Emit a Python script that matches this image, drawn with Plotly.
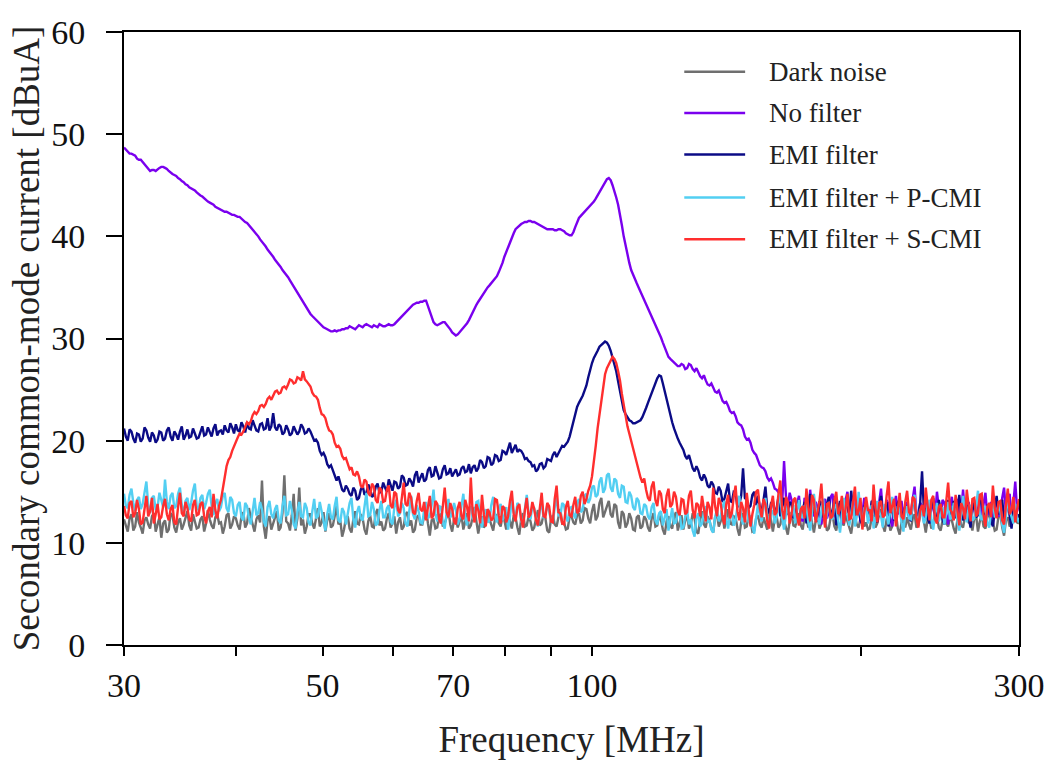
import numpy as np
import plotly.graph_objects as go

# Log sweep 30-300 MHz, 481 points
sweep_mhz = np.geomspace(30, 300, 481)

series_names = ["Dark noise", "No filter", "EMI filter", "EMI filter + P-CMI", "EMI filter + S-CMI"]
series_colors = ["#6f6f6f", "#7a00ee", "#0b0b86", "#52cff2", "#ff2e2e"]

dark_noise = [
    12.3, 11.6, 11.1, 12.4, 12.8, 11.2, 11.6, 13.0, 12.0, 11.5, 10.9, 12.2, 12.5, 11.8, 11.4, 12.6, 12.9, 11.1, 11.7, 12.5,
    10.5, 11.9, 12.2, 11.0, 11.3, 12.9, 12.7, 11.5, 11.0, 12.0, 12.4, 11.3, 11.8, 12.6, 13.1, 11.7, 11.2, 12.8, 12.1, 11.4,
    11.5, 12.3, 12.6, 11.1, 11.9, 13.2, 12.3, 11.7, 11.4, 12.5, 12.8, 11.9, 12.0, 10.9, 11.6, 12.7, 12.9, 11.4, 11.8, 12.6,
    12.4, 11.7, 11.3, 12.6, 13.0, 11.5, 11.9, 13.4, 12.5, 11.8, 11.1, 12.3, 12.7, 12.0, 16.1, 11.6, 10.4, 12.2, 12.6, 11.3,
    11.8, 12.5, 13.1, 11.2, 11.5, 12.9, 16.6, 12.1, 11.9, 11.2, 12.7, 14.8, 11.2, 12.4, 15.4, 11.7, 12.3, 10.9, 11.6, 12.8,
    12.8, 11.9, 11.4, 12.5, 13.4, 11.6, 12.0, 13.0, 11.1, 12.2, 12.9, 11.5, 11.7, 12.6, 13.6, 11.8, 12.2, 10.6, 11.3, 12.4,
    12.6, 11.4, 11.0, 12.3, 13.1, 11.9, 11.8, 12.8, 12.4, 11.3, 10.8, 12.1, 12.7, 11.6, 11.5, 12.9, 13.3, 11.7, 12.1, 11.2,
    11.4, 12.4, 12.9, 11.5, 11.9, 12.6, 10.9, 12.0, 12.5, 11.3, 11.6, 12.8, 13.0, 11.7, 12.2, 11.0, 11.3, 12.5, 12.7, 11.8,
    11.8, 12.6, 13.4, 11.9, 10.7, 12.2, 12.3, 11.4, 11.5, 12.7, 12.8, 11.6, 11.9, 12.5, 13.2, 11.8, 11.1, 12.3, 12.4, 11.5,
    12.0, 12.7, 11.3, 12.2, 12.9, 11.4, 11.7, 12.5, 13.5, 12.1, 10.9, 12.0, 12.6, 11.5, 11.8, 12.9, 12.3, 11.6, 11.2, 12.4,
    12.8, 11.9, 11.6, 12.6, 12.2, 11.3, 13.0, 12.1, 11.4, 12.7, 12.5, 11.5, 10.8, 12.3, 12.9, 11.6, 11.7, 12.6, 12.1, 11.2,
    11.5, 12.4, 13.2, 11.7, 11.9, 12.8, 12.4, 11.2, 11.0, 12.3, 12.7, 11.8, 11.6, 12.5, 13.3, 11.9, 12.0, 11.3, 11.4, 12.6,
    12.6, 12.0, 11.8, 12.7, 12.9, 11.9, 12.2, 13.4, 13.3, 12.4, 11.9, 13.1, 13.8, 12.2, 12.6, 13.9, 14.4, 12.5, 13.0, 13.7,
    14.1, 12.8, 12.5, 13.8, 13.6, 12.0, 11.4, 13.1, 12.8, 11.5, 11.9, 12.9, 12.4, 11.3, 11.2, 12.5, 12.7, 11.4, 11.6, 12.6,
    12.3, 11.5, 11.1, 12.4, 12.9, 11.6, 11.7, 12.8, 12.2, 11.3, 10.8, 12.1, 12.6, 11.7, 11.4, 12.5, 13.0, 11.2, 11.9, 12.7,
    11.3, 12.2, 12.7, 11.4, 11.8, 12.9, 12.4, 11.1, 10.9, 12.3, 13.1, 11.8, 11.5, 12.6, 12.2, 11.4, 11.0, 12.5, 12.8, 11.6,
    12.1, 12.7, 11.4, 12.2, 13.3, 11.9, 11.8, 12.6, 12.5, 11.4, 10.7, 12.0, 12.9, 11.5, 11.6, 12.8, 12.3, 11.1, 11.2, 12.4,
    12.7, 11.8, 11.5, 12.5, 12.0, 11.3, 13.4, 12.2, 11.1, 12.3, 12.6, 11.5, 11.8, 12.9, 12.2, 11.4, 10.8, 12.1, 13.0, 11.7,
    11.6, 12.3, 12.9, 11.7, 11.3, 12.6, 12.4, 11.5, 13.2, 12.0, 11.0, 12.2, 12.7, 11.4, 11.9, 12.8, 12.3, 11.2, 11.4, 12.5,
    12.8, 11.6, 11.2, 12.4, 13.5, 12.0, 11.7, 12.7, 12.1, 11.3, 10.9, 12.2, 12.6, 11.8, 11.5, 12.4, 13.1, 11.6, 12.0, 11.3,
    11.4, 12.5, 12.7, 11.5, 11.9, 12.8, 13.3, 11.7, 11.1, 12.3, 12.4, 11.2, 11.6, 12.6, 12.9, 11.4, 10.8, 12.0, 12.2, 11.5,
    12.5, 11.8, 11.3, 12.4, 12.8, 11.5, 11.7, 12.7, 13.6, 12.1, 11.0, 12.3, 12.3, 11.4, 11.8, 12.9, 12.6, 11.5, 11.2, 12.2,
    13.0, 11.9, 11.6, 12.5, 12.2, 11.4, 10.9, 12.3, 12.9, 11.7, 11.5, 12.6, 13.2, 12.0, 11.9, 11.2, 12.4, 12.7, 11.1, 12.1,
    12.7, 11.6, 11.4, 12.5, 13.1, 11.8, 12.0, 11.2, 11.3, 12.6, 12.8, 11.5, 10.7, 12.2, 12.5, 11.6, 11.8, 12.7, 13.4, 12.0,
    11.9,
]

no_filter = [
    48.7, 48.5, 48.4, 48.1, 48.1, 48.0, 47.9, 47.6, 47.5, 47.5, 47.3, 47.0, 46.9, 46.6, 46.4, 46.5, 46.5, 46.4, 46.6, 46.7,
    46.8, 46.8, 46.7, 46.6, 46.4, 46.2, 46.1, 46.0, 45.9, 45.7, 45.6, 45.4, 45.3, 45.1, 45.0, 44.8, 44.7, 44.6, 44.5, 44.3,
    44.1, 44.0, 43.9, 43.7, 43.6, 43.4, 43.3, 43.2, 43.1, 42.9, 42.8, 42.7, 42.6, 42.5, 42.4, 42.4, 42.3, 42.2, 42.1, 42.1,
    42.0, 41.9, 41.9, 41.7, 41.6, 41.4, 41.3, 41.1, 40.9, 40.6, 40.4, 40.2, 40.0, 39.7, 39.5, 39.2, 39.0, 38.7, 38.5, 38.2,
    38.0, 37.7, 37.5, 37.2, 37.0, 36.7, 36.5, 36.2, 36.0, 35.7, 35.4, 35.1, 34.8, 34.4, 34.1, 33.9, 33.6, 33.3, 33.0, 32.7,
    32.4, 32.2, 32.0, 31.8, 31.6, 31.4, 31.3, 31.1, 31.0, 30.9, 30.8, 30.7, 30.7, 30.8, 30.7, 30.8, 30.8, 30.9, 30.9, 31.0,
    31.0, 31.2, 31.1, 31.0, 30.9, 31.1, 31.3, 31.2, 31.1, 31.3, 31.4, 31.3, 31.2, 31.1, 31.3, 31.2, 31.1, 31.4, 31.3, 31.2,
    31.2, 31.3, 31.4, 31.3, 31.3, 31.4, 31.6, 31.7, 31.9, 32.1, 32.3, 32.6, 32.8, 33.0, 33.2, 33.3, 33.4, 33.5, 33.5, 33.6,
    33.6, 33.7, 33.7, 33.2, 32.6, 32.1, 31.6, 31.4, 31.3, 31.4, 31.5, 31.6, 31.6, 31.4, 31.2, 30.9, 30.6, 30.4, 30.3, 30.4,
    30.6, 30.8, 31.0, 31.2, 31.5, 31.8, 32.2, 32.5, 32.9, 33.3, 33.6, 33.9, 34.2, 34.5, 34.7, 35.0, 35.2, 35.4, 35.6, 35.8,
    36.1, 36.5, 36.9, 37.4, 38.0, 38.5, 39.0, 39.5, 39.9, 40.3, 40.7, 40.9, 41.1, 41.2, 41.3, 41.4, 41.4, 41.5, 41.5, 41.4,
    41.4, 41.3, 41.2, 41.1, 41.0, 40.9, 40.8, 40.7, 40.7, 40.7, 40.7, 40.6, 40.6, 40.7, 40.7, 40.6, 40.5, 40.3, 40.2, 40.1,
    40.1, 40.4, 40.9, 41.4, 41.8, 42.0, 42.2, 42.4, 42.6, 42.7, 42.9, 43.1, 43.4, 43.7, 44.0, 44.3, 44.6, 45.0, 45.3, 45.6,
    45.7, 45.5, 45.0, 44.5, 43.8, 43.1, 42.2, 41.1, 40.0, 39.0, 38.2, 37.4, 36.7, 36.2, 35.8, 35.4, 35.0, 34.6, 34.2, 33.8,
    33.4, 33.0, 32.6, 32.2, 31.8, 31.4, 31.0, 30.6, 30.1, 29.6, 29.1, 28.6, 28.2, 28.0, 27.8, 27.6, 27.4, 27.3, 27.3, 27.5,
    27.4, 27.0, 27.1, 27.5, 27.4, 27.0, 26.8, 27.1, 26.7, 26.3, 26.1, 26.4, 25.9, 25.5, 25.4, 25.6, 25.2, 24.8, 24.7, 24.9,
    24.4, 23.9, 23.7, 23.8, 23.4, 22.9, 22.7, 22.8, 22.4, 21.8, 21.6, 21.5, 21.1, 20.4, 20.1, 20.2, 19.8, 19.1, 18.8, 18.6,
    18.1, 17.6, 17.4, 17.3, 17.0, 16.4, 16.1, 16.3, 15.9, 15.3, 15.2, 14.9, 14.7, 13.9, 18.0, 14.6, 13.4, 14.9, 14.2, 12.9,
    12.8, 13.9, 14.6, 12.5, 12.1, 14.4, 13.9, 12.3, 15.2, 13.1, 12.6, 14.0, 13.4, 12.2, 11.8, 13.6, 14.3, 12.4, 13.0, 14.5,
    14.8, 12.9, 12.4, 13.8, 13.6, 12.2, 11.9, 14.2, 15.0, 12.7, 13.2, 14.6, 12.5, 13.3, 14.1, 12.0, 12.9, 14.4, 13.7, 12.6,
    12.2, 13.7, 14.4, 12.6, 13.1, 14.0, 15.3, 12.9, 12.7, 14.2, 13.8, 12.3, 11.6, 13.5, 14.6, 12.8, 13.3, 14.1, 12.4, 13.6,
    14.0, 12.5, 12.9, 14.3, 15.5, 12.8, 12.3, 13.9, 13.6, 12.4, 14.7, 13.0, 11.9, 14.1, 13.2, 12.6, 15.0, 13.4, 12.6, 14.2,
    13.9, 12.7, 11.8, 13.6, 14.5, 12.6, 13.0, 14.3, 12.4, 13.1, 15.2, 12.9, 13.5, 14.0, 12.1, 13.4, 14.2, 12.5, 13.3, 14.6,
    12.5, 13.8, 14.9, 12.7, 13.2, 14.0, 11.7, 13.5, 14.1, 12.6, 12.8, 14.4, 15.4, 12.9, 13.6, 14.8, 12.2, 13.9, 16.0, 13.1,
    13.8,
]

emi_filter = [
    21.2, 20.4, 20.0, 21.1, 20.9, 20.2, 19.8, 20.7, 20.6, 19.9, 20.2, 21.3, 21.0, 20.3, 19.9, 20.8, 20.5, 19.8, 20.1, 20.9,
    20.8, 20.0, 20.2, 21.0, 21.3, 20.4, 20.0, 20.9, 20.6, 20.1, 20.9, 21.4, 20.1, 20.5, 21.1, 20.3, 20.4, 21.2, 20.7, 20.2,
    20.3, 20.9, 21.4, 20.5, 20.6, 21.3, 20.9, 20.4, 21.2, 21.6, 20.5, 20.9, 21.0, 20.6, 21.5, 21.0, 20.8, 21.7, 21.3, 20.7,
    21.6, 21.0, 20.9, 21.8, 21.4, 20.8, 21.8, 21.2, 21.1, 22.0, 21.5, 21.0, 20.9, 21.6, 21.7, 21.1, 21.2, 22.2, 21.0, 21.4,
    22.7, 21.3, 21.0, 21.6, 21.4, 20.6, 20.8, 21.5, 21.1, 20.5, 20.7, 21.4, 21.0, 20.6, 20.9, 21.6, 21.3, 20.7, 20.8, 21.2,
    20.9, 20.4, 20.0, 20.1, 19.8, 19.0, 18.6, 18.8, 18.4, 17.7, 17.4, 17.6, 17.1, 16.4, 16.1, 16.5, 15.9, 15.2, 15.0, 15.6,
    15.3, 14.8, 14.6, 15.4, 15.1, 14.2, 14.4, 15.2, 15.6, 14.7, 14.9, 15.7, 15.3, 14.5, 14.7, 15.5, 15.8, 14.9, 15.0, 15.9,
    15.4, 15.0, 16.2, 15.6, 15.1, 16.0, 15.9, 15.3, 15.5, 16.6, 16.4, 15.6, 15.7, 16.3, 16.0, 15.5, 16.6, 17.0, 15.9, 16.4,
    16.8, 16.0, 16.2, 17.1, 17.4, 16.5, 16.6, 17.5, 17.0, 16.3, 16.4, 17.2, 17.6, 16.7, 16.8, 17.3, 16.5, 16.9, 17.2, 16.6,
    16.7, 17.3, 17.5, 16.9, 17.0, 17.7, 16.8, 17.4, 17.6, 17.0, 17.3, 18.1, 17.9, 17.3, 17.5, 18.4, 18.3, 17.6, 17.8, 18.6,
    18.5, 18.0, 18.1, 19.0, 18.9, 18.6, 19.3, 19.8, 18.8, 19.2, 19.6, 18.9, 19.1, 19.0, 18.7, 18.2, 18.3, 18.0, 17.9, 17.5,
    17.6, 17.0, 17.2, 17.7, 17.8, 17.3, 17.5, 18.2, 18.1, 18.0, 18.6, 18.9, 18.4, 18.8, 19.1, 19.5, 19.4, 19.6, 19.9, 20.4,
    21.2, 22.0, 22.7, 23.3, 23.7, 24.0, 24.4, 24.9, 25.4, 26.2, 27.0, 27.6, 28.1, 28.4, 28.8, 29.2, 29.4, 29.6, 29.7, 29.6,
    29.3, 28.8, 28.2, 27.6, 26.8, 25.8, 24.8, 23.8, 23.0, 22.6, 22.3, 22.0, 21.9, 21.7, 21.7, 21.8, 21.9, 22.0, 22.3, 22.7,
    23.2, 23.7, 24.2, 24.8, 25.3, 25.8, 26.1, 26.4, 26.3, 25.6, 24.8, 24.0, 23.2, 22.5, 21.8, 21.2, 20.6, 20.2, 19.8, 19.4,
    19.1, 18.5, 18.2, 18.6, 18.0, 17.3, 17.0, 17.5, 17.1, 16.4, 16.1, 16.7, 16.3, 15.6, 15.4, 16.0, 15.7, 14.9, 14.8, 15.5,
    15.1, 14.0, 14.3, 15.2, 15.8, 14.1, 14.0, 15.0, 14.9, 13.5, 13.8, 14.6, 17.3, 14.4, 14.2, 13.4, 13.6, 14.7, 15.0, 13.7,
    14.6, 13.5, 13.2, 14.2, 15.5, 13.3, 12.9, 13.9, 14.1, 12.8, 13.4, 14.5, 12.6, 13.6, 14.4, 12.7, 13.0, 14.0, 13.8, 12.5,
    12.4, 13.6, 14.2, 12.6, 13.1, 14.0, 11.9, 13.3, 14.8, 12.9, 13.5, 12.3, 12.2, 14.1, 13.9, 12.5, 12.7, 13.8, 14.5, 12.8,
    13.0, 14.3, 11.7, 13.2, 14.1, 12.4, 12.9, 14.0, 13.6, 12.5, 15.1, 13.1, 12.3, 13.9, 13.4, 12.2, 11.8, 13.5, 14.0, 12.6,
    12.6, 14.1, 13.8, 12.4, 12.0, 13.5, 14.6, 12.8, 13.2, 14.0, 11.6, 12.9, 13.7, 12.2, 12.5, 13.9, 14.3, 12.7, 12.9, 13.6,
    13.5, 12.6, 12.1, 13.8, 14.0, 12.5, 12.8, 13.9, 17.0, 13.2, 13.3, 12.4, 11.9, 13.6, 14.4, 12.9, 12.6, 14.2, 13.1, 12.3,
    11.8, 13.4, 14.2, 12.7, 13.0, 14.1, 12.4, 13.3, 14.7, 12.6, 12.2, 13.8, 13.6, 12.4, 11.5, 13.2, 13.9, 12.5, 12.7, 14.0,
    14.1, 12.9, 12.5, 13.7, 13.3, 12.2, 11.6, 13.4, 14.6, 12.8, 13.0, 14.2, 12.3, 13.1, 14.0, 12.6, 11.4, 13.3, 13.5, 12.4,
    12.8,
]

emi_p_cmi = [
    14.8, 13.6, 13.4, 14.7, 15.3, 13.9, 13.1, 14.2, 14.5, 13.3, 13.8, 15.0, 16.0, 13.7, 12.9, 14.4, 14.6, 13.2, 13.5, 14.9,
    14.1, 13.5, 16.2, 14.0, 13.3, 14.6, 14.9, 13.4, 13.6, 14.8, 15.4, 13.7, 12.8, 14.1, 14.4, 13.2, 13.9, 15.1, 15.8, 13.6,
    13.2, 14.4, 14.7, 13.3, 13.9, 14.8, 15.2, 13.6, 12.7, 13.9, 14.3, 13.1, 13.5, 14.6, 14.9, 13.4, 13.0, 14.5, 14.2, 12.9,
    12.6, 13.7, 14.0, 12.5, 12.2, 13.9, 13.6, 12.4, 11.8, 13.2, 14.4, 12.7, 12.9, 14.0, 13.3, 12.1, 11.6, 13.5, 14.1, 12.8,
    12.4, 13.3, 13.7, 12.2, 11.9, 13.6, 14.6, 12.7, 12.8, 14.1, 13.2, 11.8, 11.4, 13.0, 14.0, 12.6, 12.5, 13.9, 13.4, 12.0,
    11.7, 13.1, 14.3, 12.4, 12.6, 14.0, 13.1, 11.9, 11.2, 12.8, 13.8, 12.5, 12.3, 13.6, 14.5, 12.2, 12.0, 13.4, 13.0, 11.8,
    12.8, 13.9, 14.4, 12.3, 11.5, 13.0, 13.6, 12.4, 12.2, 13.8, 14.9, 12.6, 12.7, 14.0, 13.3, 11.7, 11.9, 13.2, 14.1, 12.5,
    12.5, 13.4, 13.7, 12.1, 11.8, 13.5, 14.2, 12.6, 12.9, 13.9, 13.4, 11.9, 11.6, 13.1, 14.6, 12.8, 12.3, 13.7, 13.1, 12.0,
    11.9, 13.3, 14.0, 12.4, 12.6, 13.7, 15.2, 12.9, 12.1, 13.6, 13.5, 12.0, 11.4, 12.9, 14.3, 12.5, 12.8, 13.9, 13.2, 11.8,
    12.4, 13.6, 14.8, 12.5, 11.7, 13.2, 13.6, 12.3, 12.9, 14.0, 14.1, 12.6, 11.5, 12.8, 13.3, 12.0, 12.2, 13.7, 14.5, 12.7,
    12.0, 13.4, 13.8, 12.2, 12.7, 13.5, 11.3, 12.6, 14.2, 13.0, 12.5, 13.9, 13.6, 12.1, 11.8, 13.3, 14.7, 12.9, 12.3, 13.6,
    13.4, 12.3, 11.6, 13.2, 14.0, 12.4, 12.8, 13.7, 13.1, 12.2, 11.9, 13.5, 14.4, 12.7, 12.6, 13.9, 13.7, 12.5, 12.1, 13.4,
    13.5, 12.8, 12.4, 13.9, 14.3, 13.0, 13.2, 14.6, 14.8, 13.9, 14.3, 15.4, 15.6, 14.5, 14.7, 16.0, 16.4, 14.9, 15.3, 16.6,
    16.8, 15.4, 15.0, 16.3, 16.1, 14.8, 14.4, 15.6, 15.5, 14.0, 13.9, 15.0, 14.6, 13.5, 13.2, 14.4, 14.1, 12.9, 12.8, 13.8,
    13.6, 12.6, 12.3, 13.5, 13.9, 12.2, 11.8, 12.9, 13.1, 11.7, 12.5, 13.3, 11.2, 12.4, 13.4, 11.9, 12.0, 13.0, 12.9, 11.4,
    11.5, 12.6, 13.2, 11.8, 12.3, 11.2, 10.6, 12.4, 12.9, 11.6, 11.9, 13.0, 13.6, 12.0, 12.2, 11.3, 11.0, 12.5, 13.3, 12.1,
    12.6, 13.5, 14.1, 12.3, 11.4, 12.8, 13.0, 11.7, 12.2, 13.6, 14.6, 12.5, 11.8, 13.1, 13.5, 12.0, 12.7, 11.6, 10.9, 12.4,
    13.8, 12.7, 12.1, 13.4, 14.4, 12.6, 11.6, 12.9, 13.2, 11.9, 12.5, 13.9, 14.9, 12.4, 11.3, 12.8, 13.6, 12.2, 12.8, 13.7,
    11.9, 13.1, 14.2, 12.8, 12.4, 13.6, 13.7, 12.0, 11.2, 12.9, 14.8, 13.2, 12.6, 11.8, 13.1, 14.3, 11.7, 12.7, 14.0, 12.5,
    12.3, 13.8, 13.5, 12.2, 11.0, 12.7, 14.4, 12.9, 12.8, 11.7, 13.2, 14.1, 11.6, 12.6, 15.0, 12.8, 12.1, 13.4, 13.7, 11.9,
    12.9, 13.7, 11.4, 12.5, 14.1, 13.0, 12.6, 11.5, 13.8, 12.7, 11.8, 13.3, 14.5, 12.4, 12.2, 13.6, 13.3, 12.0, 11.1, 12.8,
    13.6, 12.4, 12.3, 13.8, 14.7, 12.6, 11.7, 13.3, 13.0, 11.9, 12.5, 13.7, 14.2, 12.3, 11.3, 12.9, 13.9, 12.1, 12.7, 13.5,
    11.8, 12.9, 14.0, 12.3, 12.6, 13.9, 13.4, 12.1, 11.2, 12.8, 14.6, 13.0, 12.0, 13.5, 13.7, 12.2, 12.4, 13.6, 15.1, 12.7,
    12.2, 13.4, 13.5, 12.0, 11.5, 12.9, 14.3, 12.5, 12.8, 13.7, 13.1, 11.8, 11.0, 12.6, 14.5, 13.2, 12.6, 11.9, 13.8, 12.4,
    12.0,
]

emi_s_cmi = [
    13.6, 12.7, 12.4, 13.9, 14.1, 12.5, 12.9, 14.2, 13.3, 11.8, 12.0, 13.5, 14.6, 12.6, 13.1, 14.4, 11.9, 12.8, 13.8, 12.3,
    12.5, 13.6, 14.3, 12.8, 12.2, 13.3, 13.7, 12.0, 11.8, 13.5, 14.9, 12.9, 12.6, 14.0, 13.4, 12.3, 12.1, 13.7, 14.2, 12.7,
    12.8, 13.8, 14.0, 12.6, 11.9, 13.1, 13.5, 12.5, 14.8, 13.2, 12.4, 13.6, 14.2, 15.3, 16.6, 17.5, 18.1, 18.4, 19.0, 19.5,
    19.8, 20.3, 20.7, 20.6, 20.9, 21.4, 21.8, 21.6, 21.9, 22.5, 22.8, 22.6, 22.9, 23.4, 23.5, 23.3, 23.6, 24.1, 24.3, 24.0,
    24.4, 24.8, 24.9, 24.6, 24.7, 25.2, 25.3, 25.1, 25.5, 26.0, 25.9, 25.6, 25.7, 26.2, 26.1, 25.9, 26.8, 26.0, 25.8, 25.6,
    25.3, 24.7, 24.4, 24.3, 24.0, 23.2, 22.6, 22.5, 22.2, 21.5, 21.0, 20.9, 20.6, 19.8, 19.4, 19.5, 19.2, 18.5, 18.2, 18.3,
    17.8, 17.2, 17.4, 16.7, 16.6, 17.0, 16.5, 15.6, 15.4, 16.2, 16.0, 14.9, 14.6, 15.8, 15.5, 14.2, 13.9, 15.4, 15.2, 14.0,
    14.1, 15.2, 15.6, 13.7, 13.4, 15.0, 14.8, 13.2, 12.9, 14.3, 15.9, 13.8, 13.6, 14.9, 14.4, 13.0, 12.8, 14.1, 14.9, 13.3,
    13.1, 14.0, 12.2, 13.5, 14.6, 12.4, 12.7, 14.1, 13.8, 12.3, 11.9, 13.6, 15.4, 13.0, 12.5, 13.9, 13.3, 12.1, 11.8, 13.4,
    14.0, 12.6, 12.3, 14.2, 13.5, 12.1, 16.4, 12.9, 12.0, 13.8, 13.2, 11.9, 14.7, 12.8, 11.6, 13.3, 13.0, 12.2, 12.4, 14.3,
    14.2, 12.7, 11.9, 13.6, 13.4, 12.0, 12.6, 14.1, 15.1, 12.8, 12.1, 13.5, 13.8, 12.3, 11.5, 13.2, 14.4, 12.5, 12.8, 14.0,
    13.3, 12.2, 11.7, 13.4, 14.9, 12.6, 12.5, 13.9, 13.6, 12.1, 12.0, 14.3, 15.6, 13.0, 12.9, 11.9, 11.8, 13.5, 14.1, 12.7,
    12.6, 13.7, 14.5, 12.9, 13.1, 14.6, 15.0, 13.8, 14.3, 15.1, 15.6, 16.5, 17.8, 19.5, 21.2, 22.6, 23.9, 25.3, 26.5, 27.1,
    27.5, 27.9, 28.2, 28.0, 27.6, 26.8, 25.9, 24.6, 23.4, 22.4, 21.4, 20.7, 20.0, 19.3, 18.6, 17.8, 17.0, 16.4, 15.9, 16.3,
    15.2, 14.4, 14.1, 15.5, 16.0, 14.2, 13.6, 15.1, 14.8, 13.3, 12.9, 14.6, 15.3, 13.5, 13.8, 15.0, 14.5, 13.1, 12.7, 14.3,
    14.2, 12.8, 13.0, 14.6, 15.1, 13.2, 12.4, 13.9, 13.7, 12.6, 14.6, 13.3, 12.1, 14.0, 13.5, 12.3, 15.4, 13.6, 12.6, 14.4,
    13.9, 12.5, 11.8, 13.8, 14.7, 12.4, 12.9, 14.5, 15.6, 13.1, 12.2, 14.0, 13.4, 12.0, 14.9, 13.3, 11.6, 12.8, 13.7, 15.0,
    15.2, 13.4, 12.5, 14.3, 13.8, 12.1, 11.4, 13.6, 14.6, 12.7, 13.0, 14.8, 16.1, 13.2, 12.3, 14.5, 14.0, 11.9, 12.8, 14.2,
    14.4, 12.6, 11.7, 13.3, 13.6, 12.4, 15.3, 13.5, 12.1, 14.7, 14.2, 12.0, 12.9, 14.1, 15.8, 13.0, 11.5, 13.8, 13.9, 12.4,
    12.6, 14.2, 15.0, 12.8, 13.3, 14.6, 11.9, 13.7, 14.8, 12.3, 12.4, 14.0, 15.5, 12.7, 13.1, 14.4, 11.3, 12.9, 14.5, 13.2,
    13.2, 12.1, 15.7, 13.4, 12.0, 13.9, 14.1, 12.5, 12.7, 14.6, 16.0, 12.9, 13.5, 14.3, 11.6, 13.1, 14.9, 12.6, 12.3, 14.0,
    15.1, 13.0, 12.8, 14.5, 14.3, 12.4, 11.5, 13.2, 13.7, 12.6, 15.4, 13.6, 12.2, 14.2, 14.6, 12.3, 11.9, 13.5, 13.8, 12.5,
    12.5, 14.1, 15.9, 13.3, 13.0, 12.2, 14.7, 13.1, 11.7, 13.9, 13.4, 12.3, 15.2, 13.6, 12.1, 14.3, 14.4, 12.6, 12.9, 14.7,
    14.8, 12.7, 11.6, 13.5, 13.9, 12.5, 15.6, 13.4, 12.4, 14.0, 14.1, 12.2, 11.8, 13.7, 15.3, 12.8, 13.2, 14.5, 12.0, 13.3,
    14.3,
]

series_values = [dark_noise, no_filter, emi_filter, emi_p_cmi, emi_s_cmi]
for vals in series_values:
    assert len(vals) == len(sweep_mhz), len(vals)

x_tick_vals = [30, 40, 50, 60, 70, 80, 90, 100, 200, 300]
x_tick_text = ["30", "", "50", "", "70", "", "", "100", "", "300"]
y_tick_vals = [0, 10, 20, 30, 40, 50, 60]

serif = "Liberation Serif, Times New Roman, serif"

fig = go.Figure()
for name, color, vals in zip(series_names, series_colors, series_values):
    fig.add_trace(go.Scatter(
        x=sweep_mhz, y=vals, mode="lines", name=name,
        line=dict(color=color, width=2.4), showlegend=False,
    ))

# Legend drawn as short line samples with labels at the upper right
legend_x0, legend_x1, legend_text_x = 0.626, 0.694, 0.718
legend_y = [0.935, 0.868, 0.800, 0.730, 0.662]
for name, color, ly in zip(series_names, series_colors, legend_y):
    fig.add_shape(type="line", xref="paper", yref="paper",
                  x0=legend_x0, x1=legend_x1, y0=ly, y1=ly,
                  line=dict(color=color, width=2.5))
    fig.add_annotation(xref="paper", yref="paper", x=legend_text_x, y=ly,
                       text=name, showarrow=False, xanchor="left", yanchor="middle",
                       font=dict(family=serif, size=27, color="#222222"))

fig.update_layout(
    width=1057, height=765,
    margin=dict(l=124, r=34, t=32, b=118),
    paper_bgcolor="white", plot_bgcolor="white",
    font=dict(family=serif, color="#111111"),
)
fig.update_xaxes(
    type="log", range=[np.log10(30), np.log10(300)],
    tickvals=x_tick_vals, ticktext=x_tick_text,
    ticks="outside", ticklen=9, tickwidth=2, tickcolor="black",
    showline=True, linewidth=2, linecolor="black", mirror=True,
    showgrid=False, zeroline=False,
    tickfont=dict(family=serif, size=34, color="#111111"),
    title=dict(text="Frequency [MHz]", font=dict(family=serif, size=37, color="#222222"), standoff=23),
)
fig.update_yaxes(
    range=[0, 60], tickvals=y_tick_vals,
    ticks="outside", ticklen=16, tickwidth=2, tickcolor="black",
    showline=True, linewidth=2, linecolor="black", mirror=True,
    showgrid=False, zeroline=False, ticklabelstandoff=14,
    tickfont=dict(family=serif, size=34, color="#111111"),
    title=dict(text="Secondary common-mode current [dBuA]", font=dict(family=serif, size=37, color="#222222"), standoff=0),
)

fig.write_html("out.html")
